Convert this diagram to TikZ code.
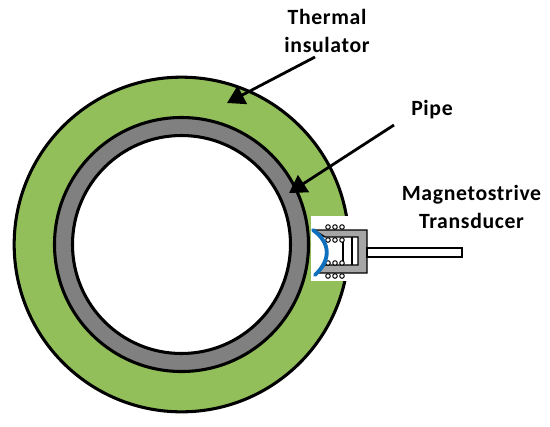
\documentclass[tikz,border=0pt]{standalone}
\usepackage{fontspec}
\setmainfont{Carlito}[LetterSpace=3]
\usetikzlibrary{arrows.meta}
\definecolor{ins}{HTML}{92BF5A}
\definecolor{pipeg}{HTML}{808080}
\definecolor{trg}{HTML}{A6A6A6}
\definecolor{shoe}{HTML}{0F70BE}
\tikzset{
 ring/.style={draw=black,line width=2.3pt},
 lbl/.style={font=\bfseries\fontsize{16.3}{21.5}\selectfont,align=center,text=black,inner sep=0pt},
 pointer/.style={draw=black,line width=2.1pt,-{Triangle[length=13pt,width=15pt]}},
 coilw/.style={circle,draw=black,line width=.75pt,fill=white,minimum size=3.4pt,inner sep=0pt},
 wire/.style={draw=black,line width=.8pt},
}
\begin{document}
\begin{tikzpicture}[x=0.75pt,y=-0.75pt]
\useasboundingbox (0,0) rectangle (550,426);
\fill[white] (0,0) rectangle (550,426);
\node[circle,ring,fill=ins,minimum size=251pt,inner sep=0pt] (outer) at (181.5,244.5) {};
\node[circle,ring,fill=pipeg,minimum size=190.5pt,inner sep=0pt] (pipe) at (181.5,244.5) {};
\node[circle,ring,fill=white,minimum size=163.5pt,inner sep=0pt] (bore) at (181.5,244.5) {};
\fill[white] (310.5,216) rectangle (351,281);
% transducer
\fill[trg,draw=black,line width=1pt] (314,230) -- (367,230) -- (367,273) -- (316,273) -- (325,265) -- (358,265) -- (358,237) -- (325,237) -- cycle;
\fill[white,draw=black,line width=1.5pt] (367,248) rectangle (462,257);
\draw[wire,line width=1.1pt] (352,237) -- (352,265);
\draw[wire] (343,240) -- (343,263);
\foreach \xx in {328,335,342} \foreach \yy in {227,240,263,276}
 \node[coilw] at (\xx,\yy) {};
\draw[shoe,line width=2.9pt,line cap=round] (313,230) .. controls (331,243) and (331,260) .. (315,275);
% labels
\node[lbl] (t1) at (327,31) {Thermal\\insulator};
\node[lbl] (t2) at (432,110) {Pipe};
\node[lbl] (t3) at (471.5,207) {Magnetostrive\\Transducer};
\coordinate (a1s) at (315,57);
\coordinate (a1e) at (227,103);
\coordinate (a2s) at (394,125);
\coordinate (a2e) at (289,193);
\draw[pointer] (a1s) -- (a1e);
\draw[pointer] (a2s) -- (a2e);
\end{tikzpicture}
\end{document}
